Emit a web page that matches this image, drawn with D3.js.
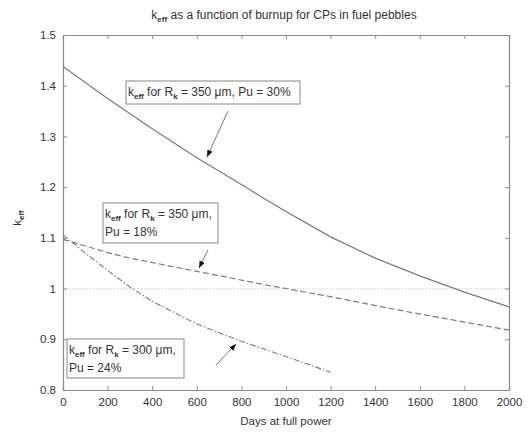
<!DOCTYPE html>
<html><head><meta charset="utf-8">
<script src="https://cdn.jsdelivr.net/npm/d3@7"></script>
<style>
html,body{margin:0;padding:0;background:#fff;}
text{font-family:"Liberation Sans",Arial,sans-serif;fill:#333;}
</style></head>
<body><svg id="c" width="529" height="432"></svg>
<script>
// Data
const days = [0, 200, 400, 600, 800, 900, 1000, 1200, 1400, 1600, 1800, 2000];
const keff350pu30 = [1.438, 1.375, 1.315, 1.258, 1.205, 1.178, 1.152, 1.102, 1.060, 1.025, 0.993, 0.964];
const days350pu18 = [0, 100, 200, 300, 600, 900, 1200, 1500, 1800, 2000];
const keff350pu18 = [1.097, 1.084, 1.071, 1.060, 1.034, 1.008, 0.984, 0.958, 0.934, 0.918];
const days300pu24 = [0, 100, 200, 300, 400, 600, 800, 1000, 1200];
const keff300pu24 = [1.106, 1.070, 1.036, 1.003, 0.975, 0.930, 0.896, 0.866, 0.835];
const xTicks = [0, 200, 400, 600, 800, 1000, 1200, 1400, 1600, 1800, 2000];
const yTicks = [0.8, 0.9, 1.0, 1.1, 1.2, 1.3, 1.4, 1.5];
const refLine = 1.0;

const svg = d3.select("#c");
const L = 63, R = 509, T = 35, B = 390;
const x = d3.scaleLinear().domain([0, 2000]).range([L, R]);
const y = d3.scaleLinear().domain([0.8, 1.5]).range([B, T]);
const axisCol = "#8a8a8a", lineCol = "#7a7a7a";

// reference dotted line
svg.append("line").attr("x1", x(0)).attr("x2", x(2000)).attr("y1", y(refLine)).attr("y2", y(refLine))
  .attr("stroke", "#c8c8c8").attr("stroke-width", 1).attr("stroke-dasharray", "1,2");

// axes (ticks inward)
const fmtY = d => (d === 1 ? "1" : d3.format(".1f")(d));
const gx = svg.append("g").attr("transform", `translate(0,${B})`)
  .call(d3.axisBottom(x).tickValues(xTicks).tickSize(-4).tickPadding(8).tickFormat(d3.format("d")));
const gxt = svg.append("g").attr("transform", `translate(0,${T})`)
  .call(d3.axisTop(x).tickValues(xTicks).tickSize(-4).tickFormat(""));
const gy = svg.append("g").attr("transform", `translate(${L},0)`)
  .call(d3.axisLeft(y).tickValues(yTicks).tickSize(-4).tickPadding(7).tickFormat(fmtY));
const gyr = svg.append("g").attr("transform", `translate(${R},0)`)
  .call(d3.axisRight(y).tickValues(yTicks).tickSize(-4).tickFormat(""));
[gx, gxt, gy, gyr].forEach(g => {
  g.select(".domain").attr("stroke", axisCol).attr("stroke-width", 1.2);
  g.selectAll(".tick line").attr("stroke", axisCol);
  g.selectAll(".tick text").attr("fill", "#444").attr("font-size", 11.5)
    .attr("font-family", "Liberation Sans, Arial, sans-serif");
});

// curves
const line = d3.line().x(d => x(d[0])).y(d => y(d[1]));
svg.append("path").datum(d3.zip(days, keff350pu30)).attr("d", line)
  .attr("fill", "none").attr("stroke", lineCol).attr("stroke-width", 1.2);
svg.append("path").datum(d3.zip(days350pu18, keff350pu18)).attr("d", line)
  .attr("fill", "none").attr("stroke", lineCol).attr("stroke-width", 1.2).attr("stroke-dasharray", "6,3");
svg.append("path").datum(d3.zip(days300pu24, keff300pu24)).attr("d", line)
  .attr("fill", "none").attr("stroke", lineCol).attr("stroke-width", 1.1).attr("stroke-dasharray", "6,2,1.5,2");

// arrow marker
svg.append("defs").append("marker").attr("id", "ah").attr("viewBox", "0 0 10 10")
  .attr("refX", 10).attr("refY", 5).attr("markerWidth", 7).attr("markerHeight", 7)
  .attr("markerUnits", "userSpaceOnUse").attr("orient", "auto")
  .append("path").attr("d", "M0,1 L10,5 L0,9 Z").attr("fill", "#111");

function arrow(x1, y1, x2, y2) {
  svg.append("line").attr("x1", x1).attr("y1", y1).attr("x2", x2).attr("y2", y2)
    .attr("stroke", "#777").attr("stroke-width", 1).attr("marker-end", "url(#ah)");
}
arrow(228, 111, 207, 157);
arrow(208, 250, 199, 268);
arrow(216, 365, 236, 344);

// annotation boxes
function keffLabel(g, xx, yy, rest) {
  const t = g.append("text").attr("x", xx).attr("y", yy).attr("font-size", 12).attr("fill", "#333");
  t.append("tspan").text("k");
  t.append("tspan").attr("dy", 3).attr("font-size", 8).attr("font-weight", "bold").text("eff");
  t.append("tspan").attr("dy", -3).text(" for R");
  t.append("tspan").attr("dy", 3).attr("font-size", 8).attr("font-weight", "bold").text("k");
  t.append("tspan").attr("dy", -3).text(rest);
}
function box(x0, y0, x1, y1) {
  svg.append("rect").attr("x", x0).attr("y", y0).attr("width", x1 - x0).attr("height", y1 - y0)
    .attr("fill", "#fff").attr("stroke", "#888").attr("stroke-width", 1);
}
box(126, 81, 300, 104);
keffLabel(svg, 128, 96, " = 350 \u03bcm, Pu = 30%");
box(103, 203, 218, 243);
keffLabel(svg, 105, 218, " = 350 \u03bcm,");
svg.append("text").attr("x", 105).attr("y", 236).attr("font-size", 12).text("Pu = 18%");
box(67, 339, 184, 378);
keffLabel(svg, 69, 354, " = 300 \u03bcm,");
svg.append("text").attr("x", 69).attr("y", 372).attr("font-size", 12).text("Pu = 24%");

// title
const tt = svg.append("text").attr("x", 284).attr("y", 19).attr("text-anchor", "middle").attr("font-size", 12);
tt.append("tspan").text("k");
tt.append("tspan").attr("dy", 3).attr("font-size", 8).attr("font-weight", "bold").text("eff");
tt.append("tspan").attr("dy", -3).text(" as a function of burnup for CPs in fuel pebbles");

// axis labels
svg.append("text").attr("x", 286).attr("y", 425).attr("text-anchor", "middle").attr("font-size", 11.5)
  .text("Days at full power");
const yl = svg.append("text").attr("transform", "translate(21,218) rotate(-90)").attr("text-anchor", "middle").attr("font-size", 11.5);
yl.append("tspan").text("k");
yl.append("tspan").attr("dy", 3).attr("font-size", 8).attr("font-weight", "bold").text("eff");
</script></body></html>
